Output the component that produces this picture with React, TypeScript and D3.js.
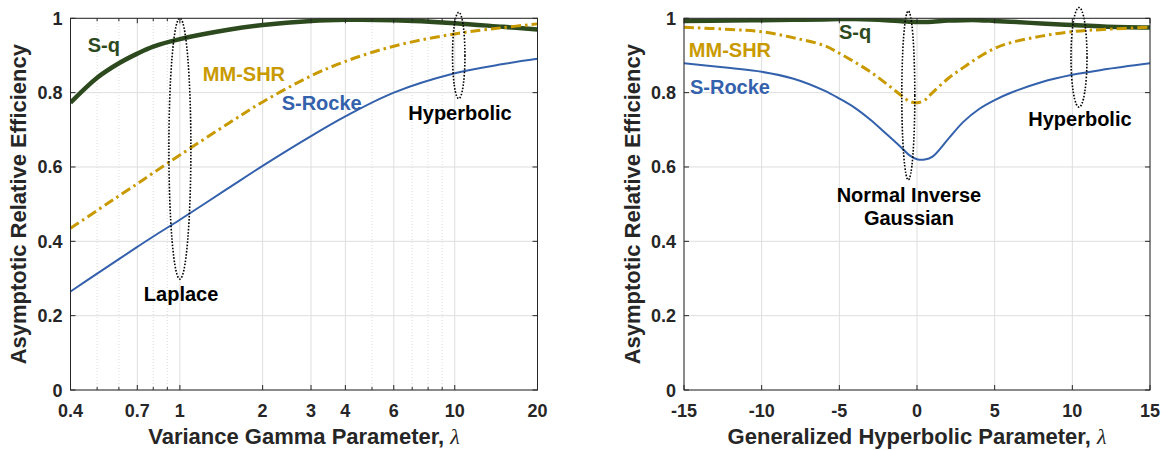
import React from 'react';
import * as d3 from 'd3';

// Variance Gamma panel (log x)
const lambdaVG = [0.4, 0.5, 0.6, 0.7, 0.8, 1, 1.5, 2, 3, 4, 6, 10, 15, 20];
const sqVG = [0.773, 0.84, 0.879, 0.905, 0.924, 0.944, 0.969, 0.982, 0.993, 0.996, 0.995, 0.987, 0.977, 0.97];
const mmVG = [0.435, 0.483, 0.522, 0.555, 0.584, 0.632, 0.717, 0.775, 0.845, 0.884, 0.925, 0.958, 0.975, 0.985];
const srVG = [0.265, 0.313, 0.352, 0.385, 0.413, 0.458, 0.543, 0.603, 0.683, 0.736, 0.8, 0.852, 0.877, 0.891];

// Generalized Hyperbolic panel (linear x)
const lambdaGH = [-15, -12, -10, -8, -6, -5, -4, -3, -2, -1, -0.5, 0, 0.5, 1, 2, 3, 4, 5, 6, 8, 10, 12, 15];
const sqGH = [0.993, 0.994, 0.995, 0.996, 0.997, 0.998, 0.998, 0.997, 0.995, 0.992, 0.991, 0.99, 0.99, 0.991, 0.994, 0.995, 0.995, 0.993, 0.991, 0.986, 0.982, 0.978, 0.975];
const mmGH = [0.976, 0.97, 0.964, 0.948, 0.927, 0.906, 0.882, 0.856, 0.825, 0.792, 0.777, 0.773, 0.78, 0.8, 0.838, 0.868, 0.896, 0.919, 0.934, 0.952, 0.964, 0.97, 0.976];
const srGH = [0.879, 0.866, 0.856, 0.838, 0.806, 0.784, 0.759, 0.727, 0.69, 0.652, 0.632, 0.621, 0.62, 0.628, 0.675, 0.722, 0.756, 0.78, 0.799, 0.828, 0.848, 0.862, 0.879];

const vgMajorTicks = [0.4, 0.7, 1, 2, 3, 4, 6, 10, 20];
const vgTickLabels = ['0.4', '0.7', '1', '2', '3', '4', '6', '10', '20'];
const vgMinorTicks = [0.5, 0.6, 0.8, 0.9, 5, 7, 8, 9];
const ghTicks = [-15, -10, -5, 0, 5, 10, 15];
const ghTickLabels = ['-15', '-10', '-5', '0', '5', '10', '15'];
const effTicks = [0, 0.2, 0.4, 0.6, 0.8, 1];
const effTickLabels = ['0', '0.2', '0.4', '0.6', '0.8', '1'];

const seriesNames = ['S-q', 'MM-SHR', 'S-Rocke'];

// annotation text: [label, lambda, efficiency]
const vgNotes: [string, number, number][] = [
  ['S-q', 0.529, 0.909],
  ['MM-SHR', 1.71, 0.831],
  ['S-Rocke', 3.28, 0.753],
  ['Hyperbolic', 10.45, 0.726],
  ['Laplace', 1.01, 0.239],
];
const ghNotes: [string, number, number][] = [
  ['S-q', -3.99, 0.944],
  ['MM-SHR', -12.04, 0.897],
  ['S-Rocke', -12.04, 0.796],
  ['Hyperbolic', 10.49, 0.71],
  ['Normal Inverse', -0.52, 0.507],
  ['Gaussian', -0.52, 0.444],
];
// dotted rings: [lambda, centre efficiency, half height]
const vgRings: [number, number, number][] = [
  [1, 0.6495, 0.351],
  [10.34, 0.9, 0.116],
];
const ghRings: [number, number, number][] = [
  [-0.56, 0.7925, 0.227],
  [10.43, 0.895, 0.134],
];

const FONT = '"Liberation Sans", Arial, Helvetica, sans-serif';
const AXIS = '#262626';
const GRID = '#dedede';
const GREEN = '#2d4a1e';
const GOLD = '#c99a00';
const BLUE = '#3461ac';
const noteColor: Record<string, string> = { 'S-q': GREEN, 'MM-SHR': GOLD, 'S-Rocke': BLUE };

function Panel(props: any) {
  const { x, xs, curves, majors, majorLabels, minors, xTitle, yTitleX, notes, rings, clipId, ringRx } = props;
  const y = d3.scaleLinear().domain([0, 1]).range([390, 18.3]);
  const [x0, x1] = x.range();
  const [y0, y1] = y.range();
  const line = d3.line<[number, number]>()
    .x(d => x(d[0]))
    .y(d => y(d[1]))
    .curve(d3.curveCatmullRom.alpha(0.5));
  const styles = [
    { stroke: GREEN, width: 4.5, dash: undefined },
    { stroke: GOLD, width: 3, dash: '10,4,2.5,4' },
    { stroke: BLUE, width: 2, dash: undefined },
  ];
  const cx = (x0 + x1) / 2;
  const cy = (y0 + y1) / 2;
  return (
    <g fontFamily={FONT} fontWeight="bold">
      <defs>
        <clipPath id={clipId}>
          <rect x={x0} y={y1} width={x1 - x0} height={y0 - y1} />
        </clipPath>
      </defs>
      {minors.map((v: number) => (
        <line key={'mg' + v} x1={x(v)} x2={x(v)} y1={y0} y2={y1} stroke={GRID} strokeDasharray="1,2" />
      ))}
      {majors.map((v: number) => (
        <line key={'g' + v} x1={x(v)} x2={x(v)} y1={y0} y2={y1} stroke={GRID} />
      ))}
      {effTicks.map(v => (
        <line key={'hg' + v} x1={x0} x2={x1} y1={y(v)} y2={y(v)} stroke={GRID} />
      ))}
      <g clipPath={`url(#${clipId})`}>
        {curves.map((c: number[], i: number) => (
          <path
            key={seriesNames[i]}
            d={line(xs.map((l: number, j: number) => [l, c[j]]) as [number, number][]) || ''}
            fill="none"
            stroke={styles[i].stroke}
            strokeWidth={styles[i].width}
            strokeDasharray={styles[i].dash}
          />
        ))}
      </g>
      {rings.map((r: [number, number, number], i: number) => (
        <ellipse
          key={'r' + i}
          cx={x(r[0])}
          cy={y(r[1])}
          rx={ringRx[i]}
          ry={Math.abs(y(r[1] + r[2]) - y(r[1]))}
          fill="none"
          stroke="#000"
          strokeWidth={1.6}
          strokeDasharray="1.6,1.6"
        />
      ))}
      <rect x={x0} y={y1} width={x1 - x0} height={y0 - y1} fill="none" stroke={AXIS} strokeWidth={1} />
      {majors.map((v: number) => (
        <g key={'t' + v} stroke={AXIS}>
          <line x1={x(v)} x2={x(v)} y1={y0} y2={y0 - 5} />
          <line x1={x(v)} x2={x(v)} y1={y1} y2={y1 + 5} />
        </g>
      ))}
      {minors.map((v: number) => (
        <g key={'mt' + v} stroke={AXIS}>
          <line x1={x(v)} x2={x(v)} y1={y0} y2={y0 - 3} />
          <line x1={x(v)} x2={x(v)} y1={y1} y2={y1 + 3} />
        </g>
      ))}
      {effTicks.map(v => (
        <g key={'yt' + v} stroke={AXIS}>
          <line x1={x0} x2={x0 + 5} y1={y(v)} y2={y(v)} />
          <line x1={x1} x2={x1 - 5} y1={y(v)} y2={y(v)} />
        </g>
      ))}
      {majors.map((v: number, i: number) => (
        <text key={'tl' + v} x={x(v)} y={y0 + 27} textAnchor="middle" fontSize={18} fill={AXIS}>
          {majorLabels[i]}
        </text>
      ))}
      {effTicks.map((v, i) => (
        <text key={'yl' + v} x={x0 - 8} y={y(v) + 6.5} textAnchor="end" fontSize={18} fill={AXIS}>
          {effTickLabels[i]}
        </text>
      ))}
      <text x={cx} y={444} textAnchor="middle" fontSize={22} fill={AXIS}>
        {xTitle}
        <tspan fontFamily='"Liberation Serif", "DejaVu Serif", serif' fontStyle="italic" fontWeight="normal">λ</tspan>
      </text>
      <text
        transform={`translate(${yTitleX},${cy}) rotate(-90)`}
        textAnchor="middle"
        fontSize={22}
        fill={AXIS}
      >
        Asymptotic Relative Efficiency
      </text>
      {notes.map((n: [string, number, number]) => (
        <text key={n[0]} x={x(n[1])} y={y(n[2])} textAnchor="middle" fontSize={20} fill={noteColor[n[0]] || '#000'}>
          {n[0]}
        </text>
      ))}
    </g>
  );
}

export default function App() {
  const xVG = d3.scaleLog().domain([0.4, 20]).range([70.5, 537.5]);
  const xGH = d3.scaleLinear().domain([-15, 15]).range([684, 1150]);
  return (
    <div style={{ position: 'absolute', left: 0, top: 0 }}>
      <svg width={1161} height={450} style={{ display: 'block', background: '#fff' }}>
        <Panel
          x={xVG}
          xs={lambdaVG}
          curves={[sqVG, mmVG, srVG]}
          majors={vgMajorTicks}
          majorLabels={vgTickLabels}
          minors={vgMinorTicks}
          xTitle="Variance Gamma Parameter, "
          yTitleX={26}
          notes={vgNotes}
          rings={vgRings}
          ringRx={[11, 6.2]}
          clipId="clipVG"
        />
        <Panel
          x={xGH}
          xs={lambdaGH}
          curves={[sqGH, mmGH, srGH]}
          majors={ghTicks}
          majorLabels={ghTickLabels}
          minors={[]}
          xTitle="Generalized Hyperbolic Parameter, "
          yTitleX={640}
          notes={ghNotes}
          rings={ghRings}
          ringRx={[6.5, 8]}
          clipId="clipGH"
        />
      </svg>
    </div>
  );
}
